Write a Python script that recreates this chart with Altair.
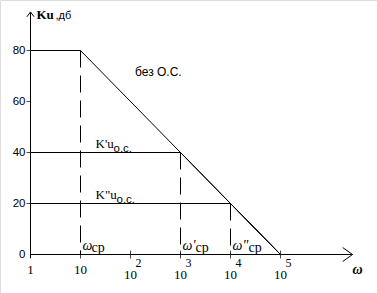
import altair as alt
import pandas as pd

# ---------------- data ----------------
y_ticks = [0, 20, 40, 60, 80]
y_tick_labels = ["0", "20", "40", "60", "80"]

x_tick_vals = [10, 100, 1000, 10000, 100000]
x_plain_vals = [1, 10]
x_plain_labels = ["1", "10"]
x_pow_vals = [100, 1000, 10000, 100000]
x_pow_base = ["10", "10", "10", "10"]
x_pow_exps = ["2", "3", "4", "5"]

omega_open = [1, 10, 100000]
gain_open = [80, 80, 0]
omega_fb1 = [1, 1000, 100000]
gain_fb1 = [40, 40, 0]
omega_fb2 = [1, 10000, 100000]
gain_fb2 = [20, 20, 0]

cutoff_omega = [10, 1000, 10000]
cutoff_gain = [80, 40, 20]
cutoff_prefix = ["ω", "ω'", "ω\""]

# axis extents (data units)
x_axis_end = 10 ** 6.44
y_axis_top = 95.1
y_axis_bottom = -1.5

SERIF = "Liberation Serif"
SANS = "Liberation Sans"

xs = alt.Scale(type="log", domain=[10 ** -0.61, 10 ** 6.93], nice=False, zero=False)
ys = alt.Scale(domain=[-15.098, 99.804], nice=False, zero=False)


def X(field="x", t="Q"):
    return alt.X(f"{field}:{t}", scale=xs, axis=None)


def Y(field="y", t="Q"):
    return alt.Y(f"{field}:{t}", scale=ys, axis=None)


layers = []

# curves
rows = []
for name, om, g in [("open", omega_open, gain_open), ("fb1", omega_fb1, gain_fb1), ("fb2", omega_fb2, gain_fb2)]:
    for i, (o, v) in enumerate(zip(om, g)):
        rows.append({"s": name, "i": i, "x": o, "y": v})
curves = pd.DataFrame(rows)
layers.append(
    alt.Chart(curves).mark_line(color="black", strokeWidth=1).encode(
        x=X(), y=Y(), detail="s:N", order="i:Q"
    )
)

# dashed cutoff lines
cut = pd.DataFrame({"x": cutoff_omega, "y": cutoff_gain, "y0": [0] * 3, "p": cutoff_prefix})
layers.append(
    alt.Chart(cut).mark_rule(color="black", strokeWidth=1, strokeDash=[17, 8]).encode(
        x=X(), y=Y(), y2="y0:Q"
    )
)

# y axis
axy = pd.DataFrame({"x": [1], "y": [y_axis_bottom], "y2": [y_axis_top]})
layers.append(alt.Chart(axy).mark_rule(color="black").encode(x=X(), y=Y(), y2="y2:Q"))
# x axis
axx = pd.DataFrame({"x": [1], "x2": [x_axis_end], "y": [0]})
layers.append(alt.Chart(axx).mark_rule(color="black").encode(x=X(), x2="x2:Q", y=Y()))

# arrowheads
layers.append(
    alt.Chart(pd.DataFrame({"x": [1], "y": [y_axis_top]})).mark_point(
        shape="M-0.9,1.2L0,0L0.9,1.2", size=64, filled=False, color="black", strokeWidth=1, opacity=1
    ).encode(x=X(), y=Y())
)
layers.append(
    alt.Chart(pd.DataFrame({"x": [x_axis_end], "y": [0]})).mark_point(
        shape="M-1.4,-1L0,0L-1.4,1", size=196, filled=False, color="black", strokeWidth=1, opacity=1
    ).encode(x=X(), y=Y())
)

# y ticks + labels
yt = pd.DataFrame({"x": [1] * 5, "y": y_ticks, "t": y_tick_labels})
layers.append(
    alt.Chart(yt[yt.y > 0]).mark_tick(orient="horizontal", size=4, thickness=1, color="black", xOffset=-2).encode(
        x=X(), y=Y()
    )
)
layers.append(
    alt.Chart(yt).mark_text(font=SANS, fontSize=11.5, align="right", baseline="middle", dx=-5, color="black").encode(
        x=X(), y=Y(), text="t:N"
    )
)

# x ticks
xt = pd.DataFrame({"x": x_tick_vals, "y": [0] * 5})
layers.append(
    alt.Chart(xt).mark_tick(orient="vertical", size=8, thickness=1, color="black").encode(x=X(), y=Y())
)
# x labels
xl = pd.DataFrame({"x": x_plain_vals, "y": [0] * 2, "t": x_plain_labels})
layers.append(
    alt.Chart(xl).mark_text(font=SERIF, fontSize=13, align="center", baseline="alphabetic", dy=19, color="black").encode(
        x=X(), y=Y(), text="t:N"
    )
)
xp = pd.DataFrame({"x": x_pow_vals, "y": [0] * 4, "b": x_pow_base, "e": x_pow_exps})
layers.append(
    alt.Chart(xp).mark_text(font=SERIF, fontSize=13, align="center", baseline="alphabetic", dy=24, dx=0, color="black").encode(
        x=X(), y=Y(), text="b:N"
    )
)
layers.append(
    alt.Chart(xp).mark_text(font=SERIF, fontSize=12, align="center", baseline="alphabetic", dy=12, dx=8, color="black").encode(
        x=X(), y=Y(), text="e:N"
    )
)

# cutoff labels
suffix_dx = [11, 15, 18]
for om, pre, sdx in zip(cutoff_omega, cutoff_prefix, suffix_dx):
    d = pd.DataFrame({"x": [om], "y": [0], "t": [pre], "s": ["ср"]})
    layers.append(
        alt.Chart(d).mark_text(font=SERIF, fontSize=14, fontStyle="italic", align="left", baseline="alphabetic", dx=2, dy=-5, color="black").encode(
            x=X(), y=Y(), text="t:N"
        )
    )
    layers.append(
        alt.Chart(d).mark_text(font=SERIF, fontSize=14, align="left", baseline="alphabetic", dx=sdx, dy=-3, color="black").encode(
            x=X(), y=Y(), text="s:N"
        )
    )

# axis titles
layers.append(
    alt.Chart(pd.DataFrame({"x": [x_axis_end], "y": [0], "t": ["ω"]})).mark_text(
        font=SERIF, fontSize=14, fontStyle="italic", fontWeight="bold", align="center", baseline="alphabetic", dx=5, dy=19, color="black"
    ).encode(x=X(), y=Y(), text="t:N")
)
layers.append(
    alt.Chart(pd.DataFrame({"x": [1], "y": [y_axis_top], "t": ["Ku"]})).mark_text(
        font=SERIF, fontSize=13, fontWeight="bold", align="left", baseline="alphabetic", dx=6, dy=7, color="black"
    ).encode(x=X(), y=Y(), text="t:N")
)
layers.append(
    alt.Chart(pd.DataFrame({"x": [1], "y": [y_axis_top], "t": [",дб"]})).mark_text(
        font=SANS, fontSize=11, align="left", baseline="alphabetic", dx=25, dy=7, color="black"
    ).encode(x=X(), y=Y(), text="t:N")
)

# curve labels
layers.append(
    alt.Chart(pd.DataFrame({"x": [123], "y": [70], "t": ["без О.С."]})).mark_text(
        font=SANS, fontSize=12, align="left", baseline="alphabetic", color="black"
    ).encode(x=X(), y=Y(), text="t:N")
)
for g, main, sdx in [(40, "K'u", 33), (20, "K\"u", 36)]:
    d = pd.DataFrame({"x": [10], "y": [g], "t": [main], "s": ["о.с."]})
    layers.append(
        alt.Chart(d).mark_text(font=SERIF, fontSize=13, align="left", baseline="alphabetic", dx=15, dy=-5, color="black").encode(
            x=X(), y=Y(), text="t:N"
        )
    )
    layers.append(
        alt.Chart(d).mark_text(font=SANS, fontSize=11.5, align="left", baseline="alphabetic", dx=sdx, dy=-1, color="black").encode(
            x=X(), y=Y(), text="s:N"
        )
    )

chart = alt.layer(*layers).properties(
    width=377, height=293, autosize=alt.AutoSizeParams(type="none"), padding=0
).configure_view(stroke=None).configure(background="white")

chart.save("out.html", embed_options={"renderer": "svg", "actions": False})
